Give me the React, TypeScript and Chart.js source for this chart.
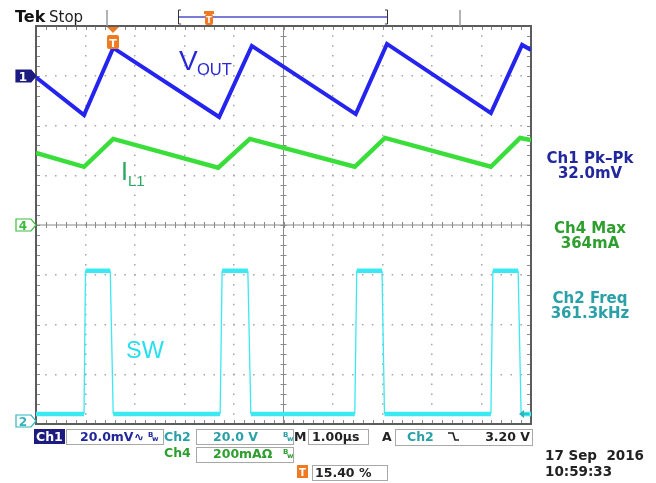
import React, { useEffect, useRef } from "react";
import { Chart, registerables } from "chart.js";
Chart.register(...registerables);

// Time base 1.00 µs/div over 10 divisions; 8 vertical divisions
const timeMinUs = 0;
const timeMaxUs = 10;
const divMin = 0;
const divMax = 8;

// Ch1 VOUT (divisions on screen)
const voutTimeUs = [0, 0.97, 1.56, 3.70, 4.36, 6.46, 7.09, 9.19, 9.82, 10];
const voutDiv = [6.97, 6.21, 7.56, 6.17, 7.60, 6.23, 7.64, 6.25, 7.62, 7.52];

// Ch4 IL1
const il1TimeUs = [0, 0.97, 1.56, 3.68, 4.32, 6.44, 7.05, 9.19, 9.78, 10];
const il1Div = [5.45, 5.17, 5.73, 5.15, 5.73, 5.17, 5.75, 5.17, 5.75, 5.71];

// Ch2 SW
const swTimeUs = [0, 0.97, 1.0, 1.5, 1.56, 3.72, 3.76, 4.28, 4.34, 6.44, 6.48, 6.99, 7.04, 9.19, 9.23, 9.74, 9.8, 10];
const swDiv = [0.2, 0.2, 3.08, 3.08, 0.2, 0.2, 3.08, 3.08, 0.2, 0.2, 3.08, 3.08, 0.2, 0.2, 3.08, 3.08, 0.2, 0.2];

const measureLines = [
  { text: "Ch1 Pk\u2013Pk", color: "#22289c" },
  { text: "32.0mV", color: "#22289c" },
  { text: "Ch4 Max", color: "#2e9e2e" },
  { text: "364mA", color: "#2e9e2e" },
  { text: "Ch2 Freq", color: "#2aa0a8" },
  { text: "361.3kHz", color: "#2aa0a8" },
];

const C_VOUT = "#2424ee";
const C_IL1 = "#3ade3a";
const C_SW = "#3ce8f2";
const C_NAVY = "#22289c";
const C_GREEN = "#2e9e2e";
const C_TEAL = "#2aa0a8";
const C_ORANGE = "#f07a22";

const toPts = (xs: number[], ys: number[]) => xs.map((x, i) => ({ x, y: ys[i] }));

const scopePlugin = {
  id: "scope",
  beforeDatasetsDraw(chart: any) {
    const { ctx, chartArea: a, scales } = chart;
    const xs = scales.x, ys = scales.y;
    const line = (x1: number, y1: number, x2: number, y2: number) => {
      ctx.beginPath(); ctx.moveTo(x1, y1); ctx.lineTo(x2, y2); ctx.stroke();
    };
    ctx.save();
    const cx = xs.getPixelForValue(5), cy = ys.getPixelForValue(4);
    ctx.strokeStyle = "#8a8a8a"; ctx.lineWidth = 1;
    line(cx, a.top, cx, a.bottom);
    line(a.left, cy, a.right, cy);
    for (let i = 0; i <= 50; i++) {
      const px = Math.round(xs.getPixelForValue(i * 0.2)) + 0.5;
      line(px, cy - 3, px, cy + 3);
      line(px, a.top, px, a.top + 4);
      line(px, a.bottom - 4, px, a.bottom);
    }
    for (let i = 0; i <= 40; i++) {
      const py = Math.round(ys.getPixelForValue(i * 0.2)) + 0.5;
      line(cx - 3, py, cx + 3, py);
      line(a.left, py, a.left + 4, py);
      line(a.right - 4, py, a.right, py);
    }
    ctx.strokeStyle = "#5c5c5c"; ctx.lineWidth = 2;
    ctx.strokeRect(a.left, a.top, a.right - a.left, a.bottom - a.top);
    ctx.restore();
  },
  afterDraw(chart: any) {
    const { ctx } = chart;
    const text = (s: string, x: number, y: number, font: string, color: string, align: CanvasTextAlign = "left") => {
      ctx.font = font; ctx.fillStyle = color; ctx.textAlign = align; ctx.textBaseline = "alphabetic";
      ctx.fillText(s, x, y);
    };
    const line = (x1: number, y1: number, x2: number, y2: number) => {
      ctx.beginPath(); ctx.moveTo(x1, y1); ctx.lineTo(x2, y2); ctx.stroke();
    };
    const box = (x1: number, y1: number, x2: number, y2: number) => {
      ctx.fillStyle = "#fff"; ctx.fillRect(x1, y1, x2 - x1, y2 - y1);
      ctx.strokeStyle = "#a8a8a8"; ctx.lineWidth = 1;
      ctx.strokeRect(x1 + 0.5, y1 + 0.5, x2 - x1, y2 - y1);
    };
    const bw = (x: number, base: number, color: string) => {
      text("B", x, base - 4, "bold 7px 'DejaVu Sans'", color);
      text("w", x + 4, base, "bold 7px 'DejaVu Sans'", color);
    };
    const marker = (yc: number, fill: string | null, stroke: string, label: string, labelColor: string) => {
      ctx.beginPath();
      ctx.moveTo(16, yc - 6); ctx.lineTo(31, yc - 6); ctx.lineTo(36, yc); ctx.lineTo(31, yc + 6); ctx.lineTo(16, yc + 6); ctx.closePath();
      ctx.fillStyle = fill || "#fff"; ctx.fill();
      ctx.strokeStyle = stroke; ctx.lineWidth = 1.2; ctx.stroke();
      text(label, 23, yc + 5, "bold 12px 'DejaVu Sans'", labelColor, "center");
    };
    ctx.save();

    // header
    text("Tek", 15, 22, "bold 16px 'DejaVu Sans'", "#111");
    text("Stop", 49, 22, "15px 'DejaVu Sans'", "#222");
    ctx.strokeStyle = "#9a9a9a"; ctx.lineWidth = 1.5;
    line(107, 10, 107, 26); line(460, 10, 460, 26);
    ctx.strokeStyle = "#7c7cd4"; ctx.lineWidth = 2;
    line(178, 17, 387, 17);
    ctx.strokeStyle = "#333"; ctx.lineWidth = 1;
    line(178.5, 10, 178.5, 24); line(178.5, 10, 181, 10); line(178.5, 24, 181, 24);
    line(387.5, 10, 387.5, 24); line(387.5, 10, 385, 10); line(387.5, 24, 385, 24);
    // record trigger position marker
    ctx.fillStyle = C_ORANGE;
    ctx.fillRect(204, 11, 10, 3);
    ctx.beginPath(); ctx.roundRect(205, 14, 8, 11, 2); ctx.fill();
    text("T", 209, 23, "bold 8px 'DejaVu Sans'", "#fff", "center");

    // graticule trigger marker
    ctx.fillStyle = C_ORANGE;
    ctx.beginPath(); ctx.moveTo(107, 27); ctx.lineTo(119, 27); ctx.lineTo(113, 33); ctx.closePath(); ctx.fill();
    ctx.beginPath(); ctx.roundRect(107, 35, 12, 14, 2); ctx.fill();
    text("T", 113, 47, "bold 11px 'DejaVu Sans'", "#fff", "center");

    // channel ground markers
    marker(76, "#1c1c80", "#1c1c80", "1", "#fff");
    marker(225, null, "#3cbc3c", "4", "#3cbc3c");
    marker(421, null, "#30b4bc", "2", "#30b4bc");

    // trigger level arrow (right)
    ctx.fillStyle = "#30b4bc"; ctx.strokeStyle = "#30b4bc"; ctx.lineWidth = 1.5;
    ctx.beginPath(); ctx.moveTo(519, 414); ctx.lineTo(524, 410); ctx.lineTo(524, 418); ctx.closePath(); ctx.fill();
    line(523, 414, 529, 414);

    // trace labels
    text("V", 179, 70, "28px 'Liberation Sans'", "#2828d8");
    text("OUT", 197, 75, "16.5px 'Liberation Sans'", "#2828d8");
    text("I", 121, 180, "25px 'Liberation Sans'", "#28a860");
    text("L1", 128, 186, "15px 'Liberation Sans'", "#28a860");
    text("SW", 126, 358, "23.5px 'Liberation Sans'", "#26dff0");

    // measurements
    const mBase = [163, 178, 233, 248, 303, 318];
    measureLines.forEach((m, i) => text(m.text, 590, mBase[i], "bold 15px 'DejaVu Sans'", m.color, "center"));

    // bottom bar
    const f = "bold 12.5px 'DejaVu Sans'";
    ctx.fillStyle = "#1c1c80"; ctx.fillRect(34, 429, 31, 15);
    text("Ch1", 36, 441, f, "#fff");
    box(66, 429, 163, 444);
    text("20.0mV", 80, 441, f, C_NAVY);
    text("\u223F", 134, 441, "bold 12px 'DejaVu Sans'", C_NAVY);
    bw(148, 441, C_NAVY);
    text("Ch2", 164, 441, f, C_TEAL);
    box(196, 429, 293, 444);
    text("20.0 V", 213, 441, f, C_TEAL);
    bw(283, 441, C_TEAL);
    text("M", 294, 441, f, "#222");
    box(308, 429, 368, 444);
    text("1.00\u00B5s", 312, 441, f, "#222");
    text("A", 382, 441, f, "#222");
    box(395, 429, 532, 445);
    text("Ch2", 407, 441, f, C_TEAL);
    ctx.strokeStyle = "#222"; ctx.lineWidth = 1.6;
    ctx.beginPath(); ctx.moveTo(448, 433); ctx.lineTo(453, 433); ctx.lineTo(455, 440); ctx.lineTo(459, 440); ctx.stroke();
    text("3.20 V", 530, 441, f, "#222", "right");

    text("Ch4", 164, 457, f, C_GREEN);
    box(196, 447, 293, 462);
    text("200mA\u03A9", 213, 458, f, C_GREEN);
    bw(283, 458, C_GREEN);

    ctx.fillStyle = C_ORANGE; ctx.fillRect(297, 465, 11, 13);
    text("T", 302.5, 476, "bold 10px 'DejaVu Sans'", "#fff", "center");
    box(312, 465, 387, 480);
    text("15.40 %", 315, 477, f, "#222");

    text("17 Sep  2016", 545, 460, "bold 13.5px 'DejaVu Sans'", "#222");
    text("10:59:33", 545, 476, "bold 13.5px 'DejaVu Sans'", "#222");

    ctx.restore();
  },
};

export default function App() {
  const ref = useRef<HTMLCanvasElement>(null);
  useEffect(() => {
    const canvas = ref.current!;
    const gridColor = (edge: number[]) => (c: any) =>
      edge.includes(c.tick?.value) ? "transparent" : "#a4a4a4";
    const chart = new Chart(canvas, {
      type: "line",
      data: {
        datasets: [
          {
            label: "SW",
            data: toPts(swTimeUs, swDiv),
            borderColor: C_SW,
            borderWidth: 4.5,
            pointRadius: 0,
            tension: 0,
            segment: {
              borderWidth: (c: any) => (Math.abs(c.p0.parsed.y - c.p1.parsed.y) > 0.5 ? 1.3 : 4.5),
            },
          } as any,
          {
            label: "IL1",
            data: toPts(il1TimeUs, il1Div),
            borderColor: C_IL1,
            borderWidth: 4.5,
            pointRadius: 0,
            tension: 0,
          },
          {
            label: "VOUT",
            data: toPts(voutTimeUs, voutDiv),
            borderColor: C_VOUT,
            borderWidth: 4,
            pointRadius: 0,
            tension: 0,
          },
        ],
      },
      options: {
        animation: false,
        responsive: false,
        devicePixelRatio: 1,
        layout: { padding: { left: 36, top: 26, right: 125, bottom: 59 } },
        plugins: { legend: { display: false }, tooltip: { enabled: false } },
        scales: {
          x: {
            type: "linear",
            min: timeMinUs,
            max: timeMaxUs,
            ticks: { display: false, stepSize: 1 },
            grid: { color: gridColor([0, 5, 10]), lineWidth: 1.5, drawTicks: false },
            border: { display: false, dash: [1.5, 8.45], dashOffset: 0.75 },
          },
          y: {
            type: "linear",
            min: divMin,
            max: divMax,
            ticks: { display: false, stepSize: 1 },
            grid: { color: gridColor([0, 4, 8]), lineWidth: 1.5, drawTicks: false },
            border: { display: false, dash: [1.5, 8.4], dashOffset: 0.75 },
          },
        },
      },
      plugins: [scopePlugin as any],
    });
    return () => chart.destroy();
  }, []);
  return (
    <div style={{ position: "absolute", left: 0, top: 0, width: 656, height: 483, background: "#fff" }}>
      <canvas ref={ref} width={656} height={483} style={{ display: "block", width: 656, height: 483 }} />
    </div>
  );
}
